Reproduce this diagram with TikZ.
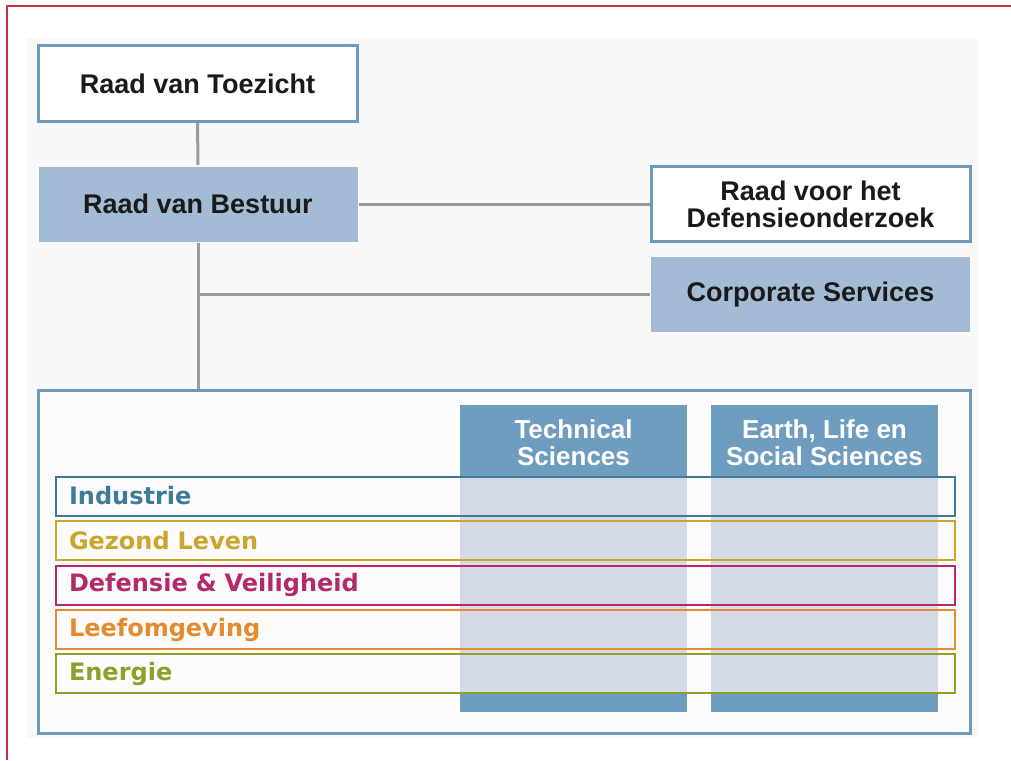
\documentclass[tikz,border=0pt]{standalone}
\usepackage{fontspec}
\setmainfont{Liberation Sans}
\newfontfamily\rowfont{DejaVu Sans}
\usetikzlibrary{positioning}
\definecolor{framered}{RGB}{200,52,62}
\definecolor{panelgray}{RGB}{248,248,248}
\definecolor{linegray}{RGB}{155,155,155}
\definecolor{boxblue}{RGB}{110,155,187}
\definecolor{boxfill}{RGB}{163,187,212}
\definecolor{colblue}{RGB}{111,157,191}
\definecolor{colfade}{RGB}{211,218,229}
\definecolor{textdark}{RGB}{26,26,26}
\definecolor{thblue}{RGB}{63,123,152}
\definecolor{thgold}{RGB}{204,165,45}
\definecolor{thmagenta}{RGB}{181,41,107}
\definecolor{thorange}{RGB}{229,138,46}
\definecolor{tholive}{RGB}{143,159,42}
\tikzset{
  line/.style={draw=linegray, line width=3pt},
  unit/.style={draw=boxblue, line width=3pt, fill=white, minimum width=319pt,
    minimum height=75pt, text=textdark, align=center,
    font=\fontsize{27}{27}\selectfont\bfseries},
  unitfill/.style={unit, draw=none, fill=boxfill},
  column/.style={fill=colblue, minimum width=227pt, minimum height=307pt, inner sep=0pt},
  colhead/.style={text=white, align=center, inner sep=0pt,
    font=\fontsize{26}{27}\selectfont\bfseries},
  theme/.style={draw=#1, text=#1, line width=2pt, minimum width=899pt,
    minimum height=39pt, text width=873pt, inner xsep=13pt, inner ysep=0pt,
    align=left, anchor=west, font=\rowfont\fontsize{24}{26}\selectfont\bfseries}
}
\begin{document}
\begin{tikzpicture}[x=1pt,y=-1pt]
  \useasboundingbox (0,0) rectangle (1011,760);
  \fill[panelgray] (27,38) rectangle (978,738);
  \draw[framered, line width=2pt] (1011,6) -- (7,6) -- (7,760);
  % top of the chart
  \node[unit] (rvt) at (197.5,83.5) {Raad van Toezicht};
  \node[unitfill] (rvb) at (198,204) {Raad van Bestuur};
  \node[unit] (rvd) at (810.5,204) {Raad voor het\\Defensieonderzoek};
  \node[unitfill] (cs) at (810.5,294.5) {Corporate Services};
  % organisation
  \node[draw=boxblue, line width=3pt, fill=white!60!panelgray,
    minimum width=932pt, minimum height=343pt] (org) at (504,561.5) {};
  \node[column] (ts) at (573.5,558.5) {};
  \node[column] (els) at (824.5,558.5) {};
  \node[colhead, below=15pt of ts.north] (tsh) {Technical\\Sciences};
  \node[colhead, below=15pt of els.north] (elsh) {Earth, Life en\\Social Sciences};
  \fill[colfade] (ts.west |- 0,476.5) rectangle (ts.east |- 0,693);
  \fill[colfade] (els.west |- 0,476.5) rectangle (els.east |- 0,693);
  % themes
  \node[theme=thblue] (ind) at (55,496) {Industrie};
  \node[theme=thgold] (gzl) at (55,540.5) {Gezond Leven};
  \node[theme=thmagenta] (dev) at (55,585) {Defensie \& Veiligheid};
  \node[theme=thorange] (lfo) at (55,629.5) {Leefomgeving};
  \node[theme=tholive] (ene) at (55,673.5) {Energie};
  % connectors
  \path[line] (rvt) edge (rvb)
              (rvb) edge (rvd);
  \draw[line] (rvb.south) -- (rvb.south |- org.north);
  \draw[line] (cs.west) -- (cs.west -| rvb.south);
\end{tikzpicture}
\end{document}
